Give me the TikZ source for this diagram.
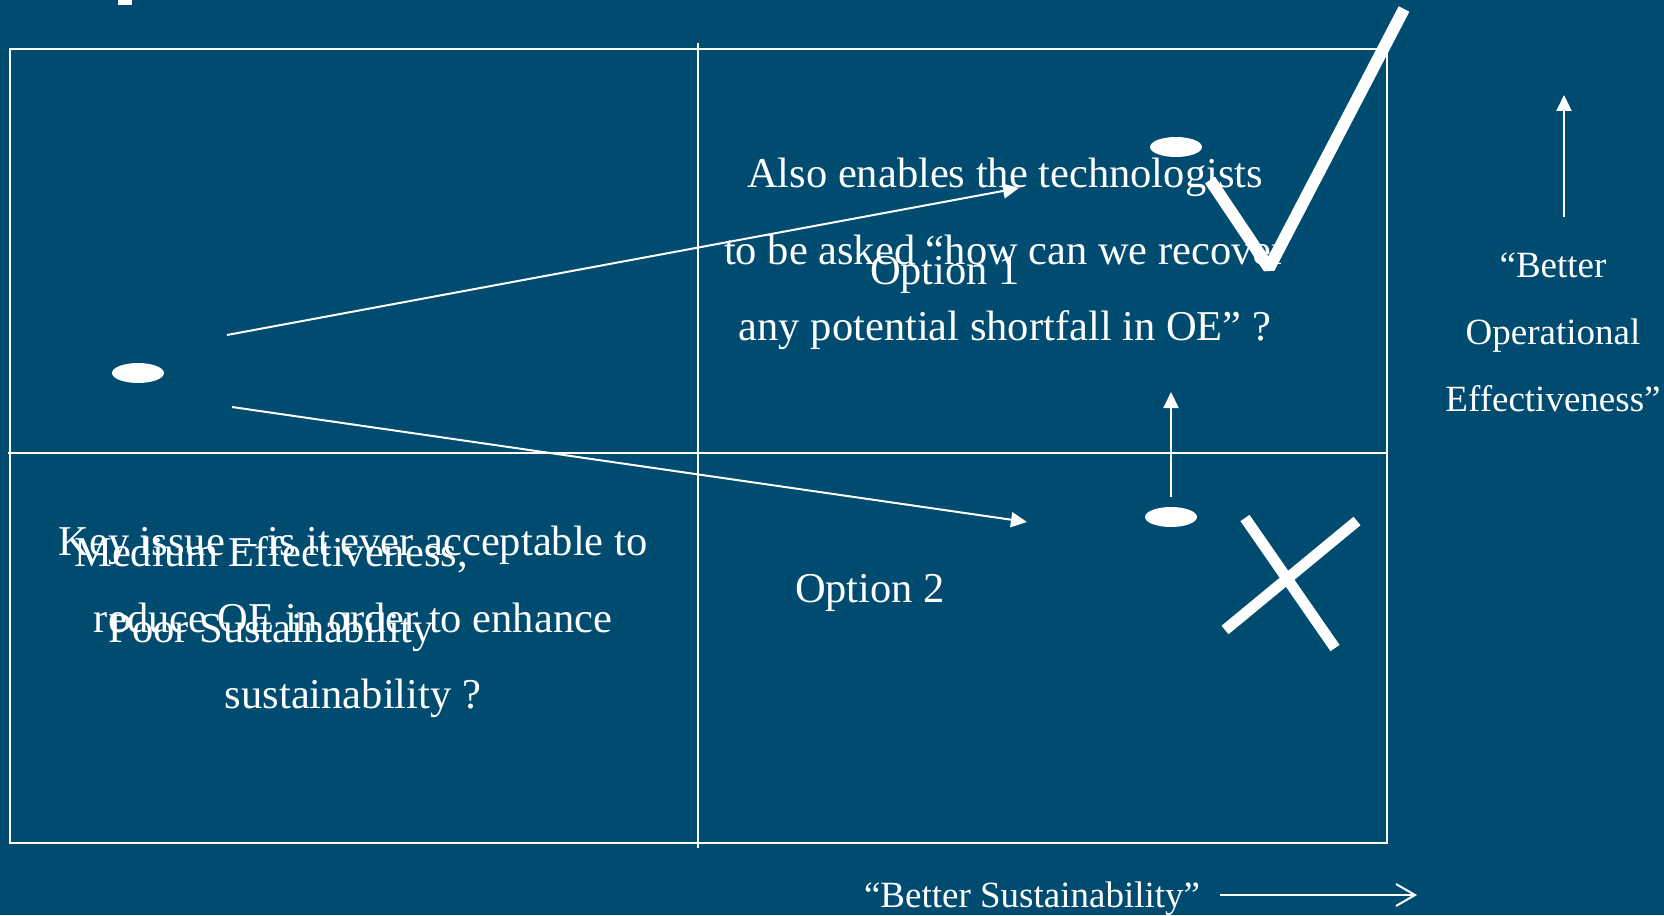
\documentclass[tikz,border=0pt]{standalone}
\usepackage{fontspec}
\setmainfont{Liberation Serif}
\usetikzlibrary{arrows.meta,shapes.geometric,positioning}
\definecolor{slideblue}{RGB}{0,75,112}

\begin{document}
\begin{tikzpicture}[x=1pt,y=-1pt,line width=2pt,white,
  dot/.style={ellipse,fill=white,minimum width=52pt,minimum height=20pt,inner sep=0pt},
  big/.style={text=white,align=center,inner sep=0pt,font=\fontsize{42.5}{76.5}\selectfont},
  side/.style={text=white,align=center,inner sep=0pt,font=\fontsize{37}{67}\selectfont},
  pointer/.style={-{Triangle[length=16pt,width=15pt]}},
  barb/.style={-{Straight Barb[length=19pt,width=22pt]}},
  stroke/.style={line width=12pt}]
\fill[slideblue] (0,0) rectangle (1664,915);
\useasboundingbox (0,0) rectangle (1664,915);
\fill (118,0) rectangle (132,5);

% quadrants
\draw (10,49) rectangle (1387,843);
\draw (698,43) -- (698,848);
\draw (8,453) -- (1387,453);

% options
\node[dot] (now) at (138,373) {};
\node[dot] (opt1dot) at (1176,147) {};
\node[dot] (opt2dot) at (1171,517) {};
\coordinate (up0) at (227,335);
\coordinate (up1) at (1019,188);
\coordinate (dn0) at (232,407);
\coordinate (dn1) at (1027,522);
\coordinate (rise) at (1171,392);
\coordinate (oe0) at (1564,217);
\coordinate (oe1) at (1564,95);
\coordinate (bs0) at (1220,895);
\coordinate (bs1) at (1417,895);

\node[big] (enable) at (1005,254) {Also enables the technologists\\to be asked “how can we recover\\any potential shortfall in OE” ?};
\node[big,anchor=base] (opt1) at (945,284) {Option 1};
\node[big,anchor=base] (opt2) at (870,602) {Option 2};
\node[big] (medium) at (271,594) {Medium Effectiveness,\\Poor Sustainability};
\node[big] (issue) at (353,622) {Key issue – is it ever acceptable to\\reduce OE in order to enhance\\sustainability ?};
\node[side] (oe) at (1553,332) {“Better\\Operational\\Effectiveness”};
\node[side,anchor=base] (bs) at (1032,907) {“Better Sustainability”};

\path[pointer]
(up0) edge (up1)
(dn0) edge (dn1)
(opt2dot) edge[shorten <=9pt] (rise)
(oe0) edge (oe1);
\path[barb] (bs0) edge (bs1);

% tick and cross
\draw[stroke,line join=bevel] (1210,180) -- (1269,268) -- (1404,9);
\draw[stroke,line width=11pt] (1245,518) -- (1335,648) (1357,521) -- (1225,630);
\end{tikzpicture}
\end{document}
